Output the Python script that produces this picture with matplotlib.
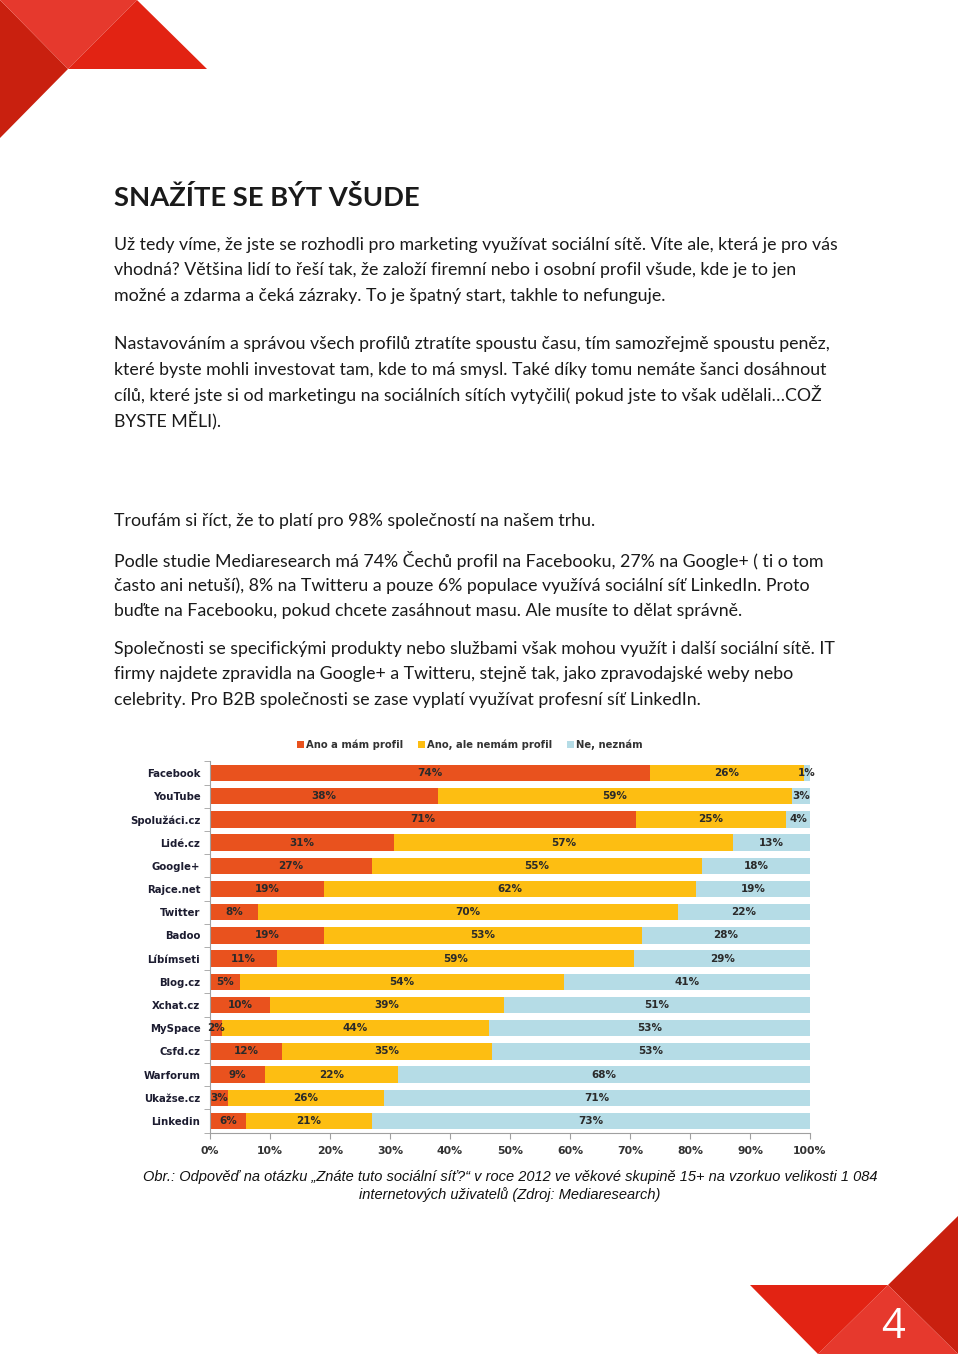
import matplotlib.pyplot as plt
from matplotlib.patches import Polygon
import numpy as np

# data (share of respondents, %)
networks = ["Facebook", "YouTube", "Spolužáci.cz", "Lidé.cz", "Google+", "Rajce.net",
            "Twitter", "Badoo", "Líbímseti", "Blog.cz", "Xchat.cz", "MySpace",
            "Csfd.cz", "Warforum", "Ukažse.cz", "Linkedin"]
have_profile = [74, 38, 71, 31, 27, 19, 8, 19, 11, 5, 10, 2, 12, 9, 3, 6]
know_no_profile = [26, 59, 25, 57, 55, 62, 70, 53, 59, 54, 39, 44, 35, 22, 26, 21]
dont_know = [1, 3, 4, 13, 18, 19, 22, 28, 29, 41, 51, 53, 53, 68, 71, 73]
series_names = ["Ano a mám profil", "Ano, ale nemám profil", "Ne, neznám"]
series_colors = ["#E9521E", "#FDBE12", "#B5DCE6"]
x_ticks = [0, 10, 20, 30, 40, 50, 60, 70, 80, 90, 100]

title = "SNAŽÍTE SE BÝT VŠUDE"
paragraphs = [
    ["Už tedy víme, že jste se rozhodli pro marketing využívat sociální sítě. Víte ale, která je pro vás",
     "vhodná? Většina lidí to řeší tak, že založí firemní nebo i osobní profil všude, kde je to jen",
     "možné a zdarma a čeká zázraky. To je špatný start, takhle to nefunguje."],
    ["Nastavováním a správou všech profilů ztratíte spoustu času, tím samozřejmě spoustu peněz,",
     "které byste mohli investovat tam, kde to má smysl. Také díky tomu nemáte šanci dosáhnout",
     "cílů, které jste si od marketingu na sociálních sítích vytyčili( pokud jste to však udělali…COŽ",
     "BYSTE MĚLI)."],
    ["Troufám si říct, že to platí pro 98% společností na našem trhu."],
    ["Podle studie Mediaresearch má 74% Čechů profil na Facebooku, 27% na Google+ ( ti o tom",
     "často ani netuší), 8% na Twitteru a pouze 6% populace využívá sociální síť LinkedIn. Proto",
     "buďte na Facebooku, pokud chcete zasáhnout masu. Ale musíte to dělat správně."],
    ["Společnosti se specifickými produkty nebo službami však mohou využít i další sociální sítě. IT",
     "firmy najdete zpravidla na Google+ a Twitteru, stejně tak, jako zpravodajské weby nebo",
     "celebrity. Pro B2B společnosti se zase vyplatí využívat profesní síť LinkedIn."],
]
paragraph_tops = [245, 344, 521, 560, 649]
caption = ["Obr.: Odpověď na otázku „Znáte tuto sociální síť?“ v roce 2012 ve věkové skupině 15+ na vzorkuo velikosti 1 084",
           "internetových uživatelů (Zdroj: Mediaresearch)"]

W, H = 960, 1357
fig = plt.figure(figsize=(W / 100, H / 100), dpi=100, facecolor="white")


def fy(py):
    return 1 - py / H


# page decoration (corner triangles), in pixel coordinates
deco = fig.add_axes([0, 0, 1, 1])
deco.set_xlim(0, W)
deco.set_ylim(H, 0)
deco.axis("off")
shapes = [
    ([(0, 0), (68, 69), (0, 138)], "#C9200F"),
    ([(0, 0), (137, 0), (68, 69)], "#E6392D"),
    ([(137, 0), (207, 69), (68, 69)], "#E22313"),
    ([(958, 1216), (888, 1285), (958, 1354)], "#C9200F"),
    ([(888, 1285), (958, 1354), (818, 1354)], "#E6392D"),
    ([(750, 1285), (888, 1285), (818, 1354)], "#E22313"),
]
for pts, col in shapes:
    deco.add_patch(Polygon(pts, closed=True, facecolor=col, edgecolor="none"))
deco.text(893, 1327, "4", color="white", fontsize=30, family="Open Sans",
          ha="center", va="center")

# text of the page
fig.text(114 / W, fy(198), title, fontsize=19.7, fontweight="bold", family="Lato",
         color="#1a1a1a", va="center")
line_step = 25.5
for top, lines in zip(paragraph_tops, paragraphs):
    for i, line in enumerate(lines):
        fig.text(114 / W, fy(top + i * line_step), line, fontsize=12.8, family="Lato",
                 color="#1a1a1a", va="center")

cap_font = ["Liberation Sans Narrow", "Liberation Sans"]
for i, line in enumerate(caption):
    fig.text(510 / W, fy(1177 + i * 18), line, fontsize=10.5, family=cap_font,
             style="italic", color="#111111", ha="center", va="center")

# the chart
ax = fig.add_axes([210 / W, fy(1132.6), 600 / W, 371.2 / H])
data = np.array([have_profile, know_no_profile, dont_know], dtype=float)
shares = data / data.sum(axis=0) * 100
y = np.arange(len(networks))
left = np.zeros(len(networks))
for vals, raw, color, name in zip(shares, data, series_colors, series_names):
    bars = ax.barh(y, vals, left=left, height=0.7, color=color, label=name)
    ax.bar_label(bars, labels=[f"{v:.0f}%" for v in raw], label_type="center",
                 fontsize=7.5, fontweight="bold", color="#2a2a2a")
    left += vals

ax.set_xlim(0, 100)
ax.set_ylim(len(networks) - 0.5, -0.5)
ax.set_yticks(y)
ax.set_yticklabels(networks, fontsize=7.3, fontweight="bold", color="#1c1c30")
ax.set_yticks(np.arange(len(networks) + 1) - 0.5, minor=True)
ax.tick_params(axis="y", which="major", length=0, pad=7)
ax.tick_params(axis="y", which="minor", length=4, color="#a0a0a0")
ax.set_xticks(x_ticks)
ax.set_xticklabels([f"{t}%" for t in x_ticks], fontsize=7.8, fontweight="bold", color="#333333")
ax.tick_params(axis="x", length=4, color="#a0a0a0", pad=6)
for side in ["top", "right"]:
    ax.spines[side].set_visible(False)
for side in ["left", "bottom"]:
    ax.spines[side].set_color("#a0a0a0")

fig.legend(loc="center", bbox_to_anchor=(470 / W, fy(745)), ncol=3, frameon=False,
           handlelength=0.7, handleheight=0.7, handletextpad=0.2, columnspacing=1.5,
           prop={"size": 7.2, "weight": "bold"}, labelcolor="#333333")

fig.savefig("out.png", dpi=100, facecolor="white")
